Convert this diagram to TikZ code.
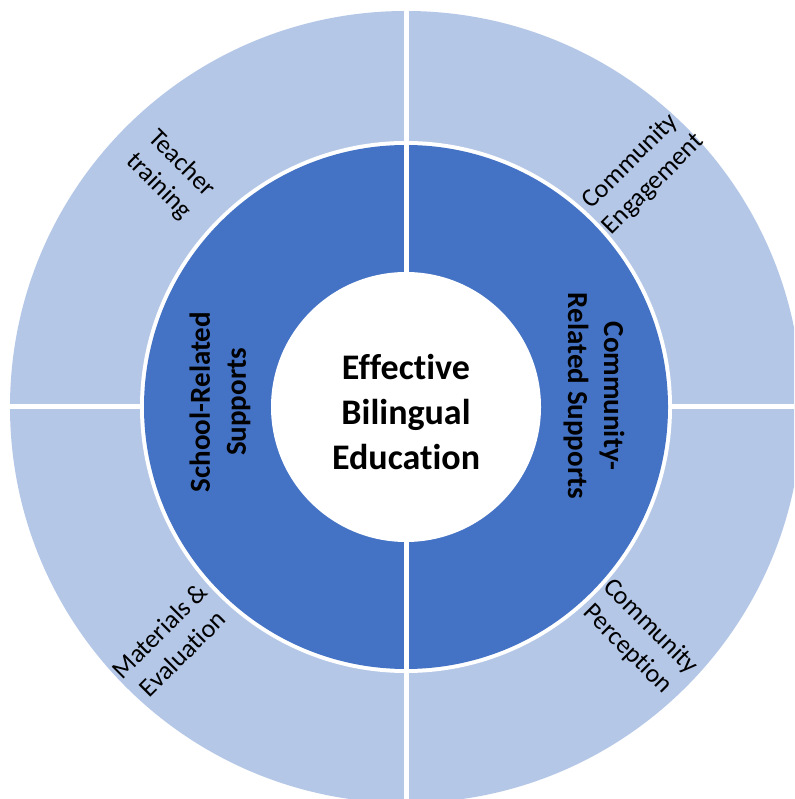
\documentclass[tikz,border=0pt]{standalone}
\usepackage{fontspec}
\setmainfont{Carlito}[Ligatures={NoCommon}]
\definecolor{lightblue}{HTML}{B4C7E7}
\definecolor{darkblue}{HTML}{4472C4}
\begin{document}
\begin{tikzpicture}[x=1pt,y=1pt,
  outerlbl/.style={align=center,font=\fontsize{26}{32}\selectfont,text=black,inner sep=0pt},
  midlbl/.style={align=center,font=\fontsize{29}{36}\selectfont\bfseries,text=black,inner sep=0pt},
  corelbl/.style={align=center,font=\fontsize{36}{45}\selectfont\bfseries,text=black,inner sep=0pt},
  gap/.style={draw=white,line width=5pt}]
\useasboundingbox (0,0) rectangle (794,799);
\clip (0,0) rectangle (794,799);
\fill[white] (0,0) rectangle (794,799);
\coordinate (C) at (406,392);
% outer ring
\fill[lightblue] (C) circle[radius=396];
\draw[gap] (406,0) -- (406,799);
\draw[gap] (0,392) -- (794,392);
\fill[white] (C) circle[radius=266];
% middle ring
\fill[darkblue] (C) circle[radius=262];
\draw[gap] ([yshift=-263]C) -- ([yshift=263]C);
% core
\fill[white] (C) circle[radius=135];
% labels
\node[corelbl] (core) at (406,387) {Effective\\Bilingual\\Education};
\node[midlbl,rotate=90] (school) at (220,397) {School-Related\\Supports};
\node[midlbl,rotate=-90] (community) at (594,403) {Community-\\Related Supports};
\node[outerlbl,rotate=-45] (teacher) at (170,624) {Teacher\\training};
\node[outerlbl,rotate=45] (engage) at (642,626) {Community\\Engagement};
\node[outerlbl,rotate=45] (material) at (171,157) {Materials \&\\Evaluation};
\node[outerlbl,rotate=-45] (percep) at (639,161) {Community\\Perception};
\end{tikzpicture}
\end{document}
